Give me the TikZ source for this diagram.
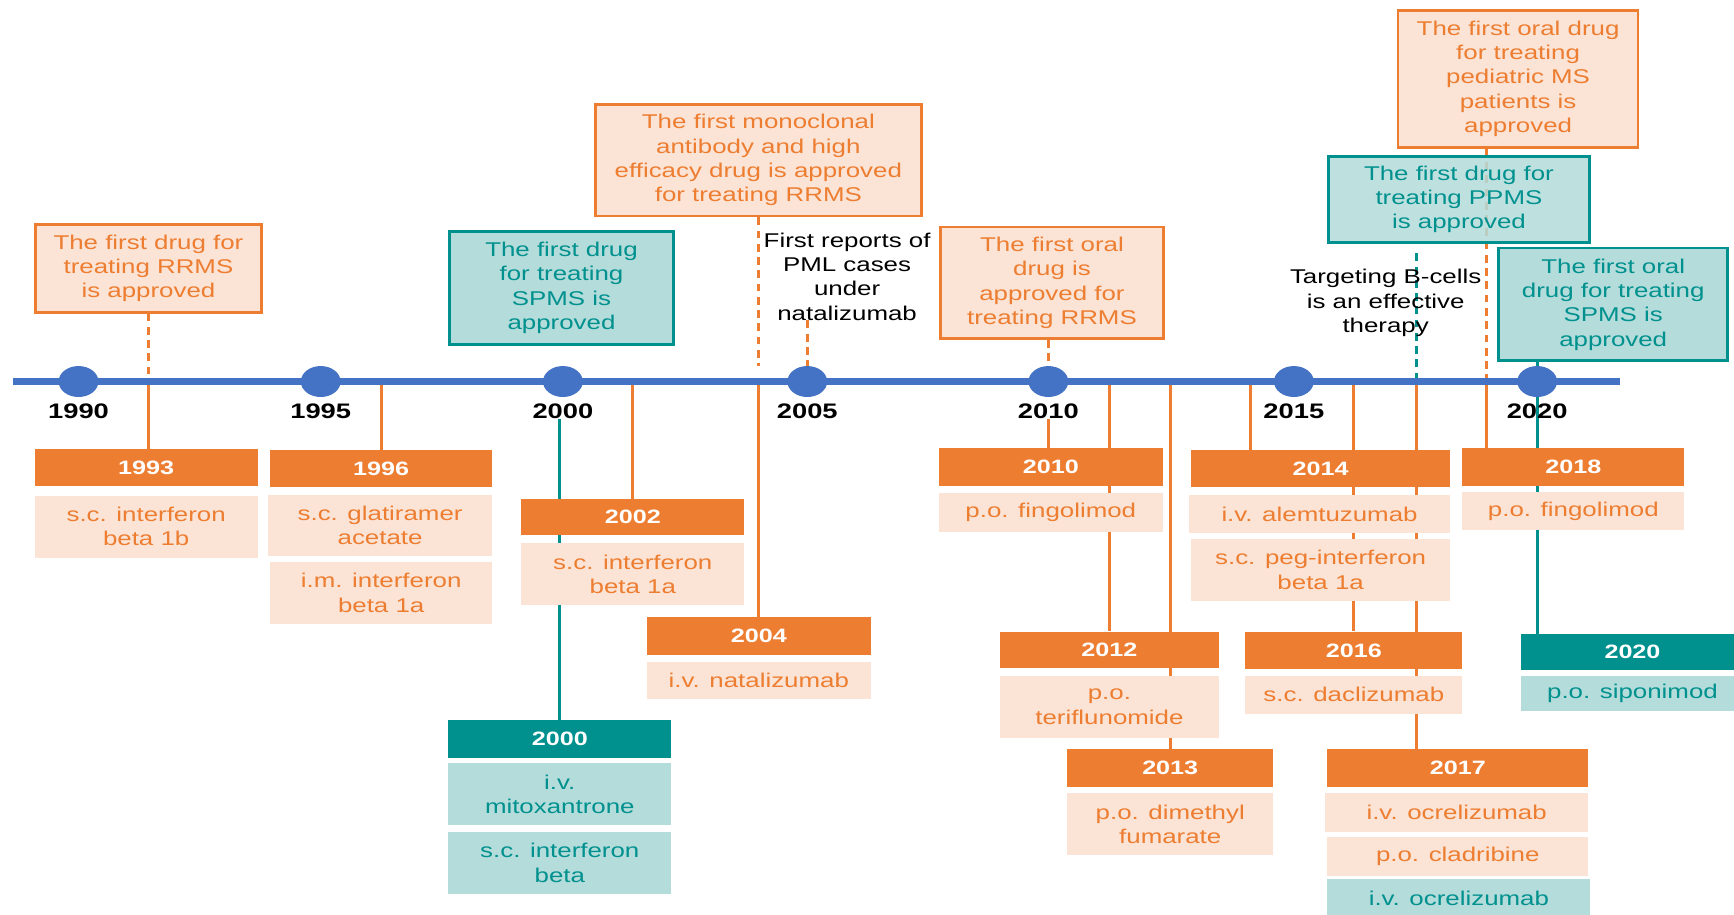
\documentclass[tikz,border=0pt]{standalone}
\usepackage{fontspec}
\setmainfont{Liberation Sans}[FakeStretch=1.3]
\usepackage{tikz}
\usetikzlibrary{shapes.geometric}
\usetikzlibrary{backgrounds}
\usepackage{xcolor}
\definecolor{tlblue}{HTML}{4472C4}
\definecolor{orng}{HTML}{ED7D31}
\definecolor{lorng}{HTML}{FBE4D5}
\definecolor{teal}{HTML}{00918E}
\definecolor{lteal}{HTML}{B3DCDB}

\begin{document}
\begin{tikzpicture}[x=1pt,y=-1pt,
  every node/.style={font=\fontsize{18}{22}\selectfont, align=center, inner sep=0pt},
  wh/.style 2 args={anchor=north west, minimum width=#1, minimum height=#2},
  head/.style={fill=orng, text=white, font=\fontsize{17.5}{22}\selectfont\bfseries},
  drug/.style={fill=lorng, text=orng},
  thead/.style={fill=teal, text=white, font=\fontsize{17.5}{22}\selectfont\bfseries},
  tdrug/.style={fill=lteal, text=teal},
  note/.style={draw=orng, line width=2.5pt, fill=lorng, text=orng},
  tnote/.style={draw=teal, line width=2.5pt, fill=lteal, text=teal},
  link/.style={orng, line width=2.5pt},
  tlink/.style={teal, line width=2.5pt},
  dlink/.style={orng, line width=2.5pt, dash pattern=on 7pt off 5pt},
  tdlink/.style={teal, line width=2.5pt, dash pattern=on 7pt off 5pt}]
  \useasboundingbox (0,0) rectangle (1568,827);

  % time line
  \coordinate (tlL) at (12,345);
  \coordinate (tlR) at (1465,345);
  \draw[tlblue, line width=6pt] (tlL) -- (tlR);
  \foreach \yr/\x in {1990/71,1995/290,2000/509,2005/730,2010/948,2015/1170,2020/1390}{
    \node[ellipse, fill=tlblue, minimum width=36, minimum height=28] (c\yr) at (\x,345) {};
    \node[font=\fontsize{19}{22}\selectfont\bfseries] (l\yr) at (\x,372) {\yr};
  }

  % events above the line
  \node[note, wh={204}{79}] (n93) at (31,202) {The first drug for\\treating RRMS\\is approved};
  \node[tnote, wh={203}{102}] (n00) at (405,208) {The first drug\\for treating\\SPMS is\\approved};
  \node[note, wh={295}{101}] (n04) at (537,93) {The first monoclonal\\antibody and high\\efficacy drug is approved\\for treating RRMS};
  \node (pml) at (766,250) {First reports of\\PML cases\\under\\natalizumab};
  \node[note, wh={202}{101}] (n10) at (849,204) {The first oral\\drug is\\approved for\\treating RRMS};
  \node[note, wh={217}{124}] (n18) at (1263,8) {The first oral drug\\for treating\\pediatric MS\\patients is\\approved};
  \node[tnote, fill opacity=0.85, text opacity=1, wh={236}{78}] (n17) at (1200,140) {The first drug for\\treating PPMS\\is approved};
  \node (bcell) at (1253,274) {Targeting B-cells\\is an effective\\therapy};
  \node[tnote, wh={207}{102}] (n20) at (1354,223) {The first oral\\drug for treating\\SPMS is\\approved};

  % approvals below the line
  \node[head, wh={202}{33}] (h93) at (31,406) {1993};
  \node[drug, wh={202}{56}] (d93) at (31,448) {s.c. interferon\\beta 1b};
  \node[head, wh={201}{33}] (h96) at (244,407) {1996};
  \node[drug, wh={203}{56}] (d96a) at (242,447) {s.c. glatiramer\\acetate};
  \node[drug, wh={201}{56}] (d96b) at (244,508) {i.m. interferon\\beta 1a};
  \node[head, wh={202}{33}] (h02) at (471,451) {2002};
  \node[drug, wh={202}{56}] (d02) at (471,491) {s.c. interferon\\beta 1a};
  \node[head, wh={202}{34}] (h04) at (585,558) {2004};
  \node[drug, wh={202}{34}] (d04) at (585,598) {i.v. natalizumab};
  \node[thead, wh={202}{34}] (h00) at (405,651) {2000};
  \node[tdrug, wh={202}{56}] (d00a) at (405,690) {i.v.\\mitoxantrone};
  \node[tdrug, wh={202}{56}] (d00b) at (405,752) {s.c. interferon\\beta};
  \node[head, wh={202}{34}] (h10) at (849,405) {2010};
  \node[drug, wh={202}{35}] (d10) at (849,446) {p.o. fingolimod};
  \node[head, wh={198}{33}] (h12) at (904,571) {2012};
  \node[drug, wh={198}{56}] (d12) at (904,611) {p.o.\\teriflunomide};
  \node[head, wh={186}{34}] (h13) at (965,677) {2013};
  \node[drug, wh={186}{56}] (d13) at (965,717) {p.o. dimethyl\\fumarate};
  \node[head, wh={234}{33}] (h14) at (1077,407) {2014};
  \node[drug, wh={236}{35}] (d14a) at (1075,447) {i.v. alemtuzumab};
  \node[drug, wh={234}{56}] (d14b) at (1077,487) {s.c. peg-interferon\\beta 1a};
  \node[head, wh={196}{34}] (h16) at (1126,571) {2016};
  \node[drug, wh={196}{34}] (d16) at (1126,611) {s.c. daclizumab};
  \node[head, wh={236}{34}] (h17) at (1200,677) {2017};
  \node[drug, wh={238}{35}] (d17a) at (1198,717) {i.v. ocrelizumab};
  \node[drug, wh={236}{35}] (d17b) at (1200,757) {p.o. cladribine};
  \node[tdrug, wh={238}{35}] (d17c) at (1200,795) {i.v. ocrelizumab};
  \node[head, wh={201}{34}] (h18) at (1322,405) {2018};
  \node[drug, wh={201}{34}] (d18) at (1322,445) {p.o. fingolimod};
  \node[thead, wh={202}{33}] (h20) at (1375,573) {2020};
  \node[tdrug, wh={202}{32}] (d20) at (1375,611) {p.o. siponimod};

  % connectors
  \coordinate (m14) at (1131,345);
  \coordinate (m17) at (1281,345);
  \coordinate (m18) at (1344,345);
  \coordinate (bt) at (1281,229);
  \begin{scope}[on background layer]
    \fill[white] (0,0) rectangle (1568,827);
    \draw[dlink] (n93.south) -- (n93.south |- tlL);
    \draw[link] (n93.south |- tlL) -- (n93.south |- h93.north);
    \draw[link] (h96.north |- tlL) -- (h96.north);
    \draw[tlink] (h00.north |- l2000.south) -- (h00.north);
    \draw[link] (h02.north |- tlL) -- (h02.north);
    \draw[dlink] (n04.south) -- (n04.south |- c2005.north);
    \draw[link] (n04.south |- tlL) -- (n04.south |- h04.north);
    \draw[dlink] (c2005.north |- pml.south) -- (c2005.north);
    \draw[dlink] (c2010.north |- n10.south) -- (c2010.north);
    \draw[link] (l2010.south) -- (l2010.south |- h10.north);
    \draw[link] (h12.north |- tlL) -- (h12.north);
    \draw[link] (h13.north |- tlL) -- (h13.north);
    \draw[link] (m14) -- (m14 |- h14.north);
    \draw[link] (h16.north |- tlL) -- (h16.north);
    \draw[tdlink] (bt) -- (m17);
    \draw[link] (m17) -- (m17 |- h17.north);
    \draw[dlink] (m18 |- n18.south) -- (m18);
    \draw[link] (m18) -- (m18 |- h18.north);
    \draw[tlink] (c2020 |- n20.south) -- (c2020 |- h20.north);
  \end{scope}
\end{tikzpicture}
\end{document}
